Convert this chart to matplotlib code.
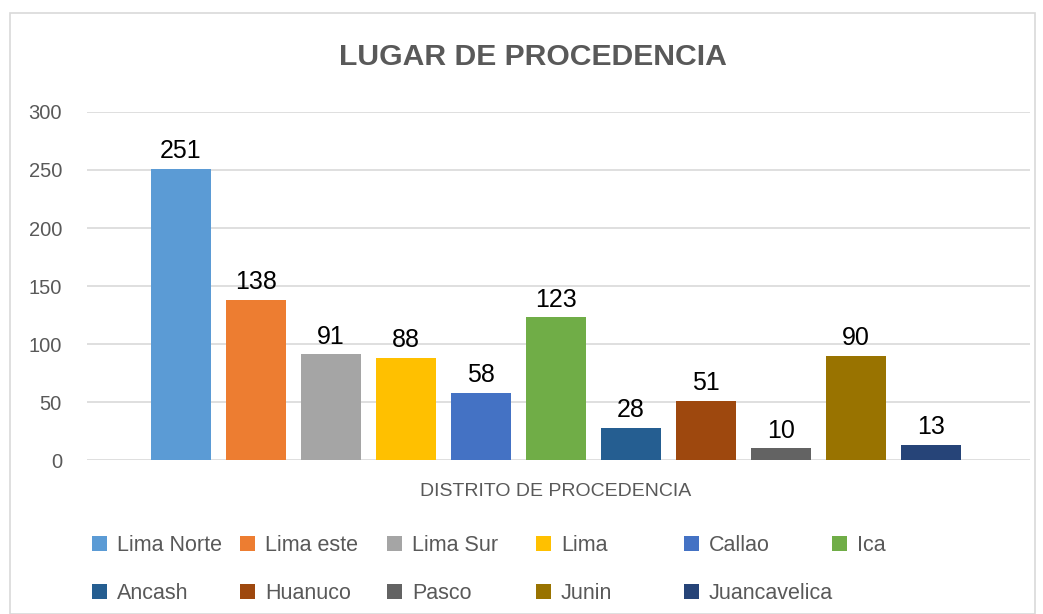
import matplotlib.pyplot as plt
from matplotlib.patches import Rectangle

plt.rcParams["font.family"] = ["Liberation Sans", "DejaVu Sans"]

lugares = ["Lima Norte", "Lima este", "Lima Sur", "Lima", "Callao", "Ica",
           "Ancash", "Huanuco", "Pasco", "Junin", "Juancavelica"]
cantidades = [251, 138, 91, 88, 58, 123, 28, 51, 10, 90, 13]
colores = ["#5B9BD5", "#ED7D31", "#A5A5A5", "#FFC000", "#4472C4", "#70AD47",
           "#255E91", "#9E480E", "#636363", "#997300", "#264478"]
y_ticks = [0, 50, 100, 150, 200, 250, 300]

gris = "#595959"
W, H = 1043, 614
fig = plt.figure(figsize=(W / 100, H / 100), dpi=100)
fig.patches.append(Rectangle((10 / W, 0), 1025 / W, 1 - 13 / H, transform=fig.transFigure,
                             fill=False, edgecolor="#D9D9D9", lw=1.2))

ax = fig.add_axes([87 / W, 1 - 460 / H, 943 / W, 348 / H])
x = list(range(len(lugares)))
bars = ax.bar(x, cantidades, width=0.8, color=colores, zorder=3)
for b, v in zip(bars, cantidades):
    ax.annotate(str(v), (b.get_x() + b.get_width() / 2, v), xytext=(0, 4),
                textcoords="offset points", ha="center", va="bottom",
                fontsize=18, color="black", zorder=4)

ax.set_xlim(-1.253, 11.32)
ax.set_ylim(0, 300)
ax.set_yticks(y_ticks)
ax.set_xticks([])
ax.tick_params(axis="y", length=0, labelsize=14.5, labelcolor=gris, pad=18)
ax.yaxis.grid(True, color="#D9D9D9", lw=1.2, zorder=0)
for s in ax.spines.values():
    s.set_visible(False)

fig.text(533 / W, 1 - 57 / H, "LUGAR DE PROCEDENCIA", ha="center", va="center",
         fontsize=21.7, fontweight="bold", color=gris)
fig.text(556 / W, 1 - 491 / H, "DISTRITO DE PROCEDENCIA", ha="center", va="center",
         fontsize=14, color=gris)

# legend: one small legend per column so the columns sit at fixed spacing
col_x = [92, 240, 387, 536, 684, 832]
for j, cx in enumerate(col_x):
    idx = [k for k in (j, j + 6) if k < len(lugares)]
    fig.legend([bars[k] for k in idx], [lugares[k] for k in idx],
               loc="upper left", bbox_to_anchor=(cx / W, 1 - 535 / H),
               frameon=False, fontsize=15.5, labelcolor=gris,
               handlelength=0.7, handleheight=0.7, handletextpad=0.45,
               labelspacing=1.27, borderpad=0, borderaxespad=0)

fig.savefig("out.png", dpi=100)
